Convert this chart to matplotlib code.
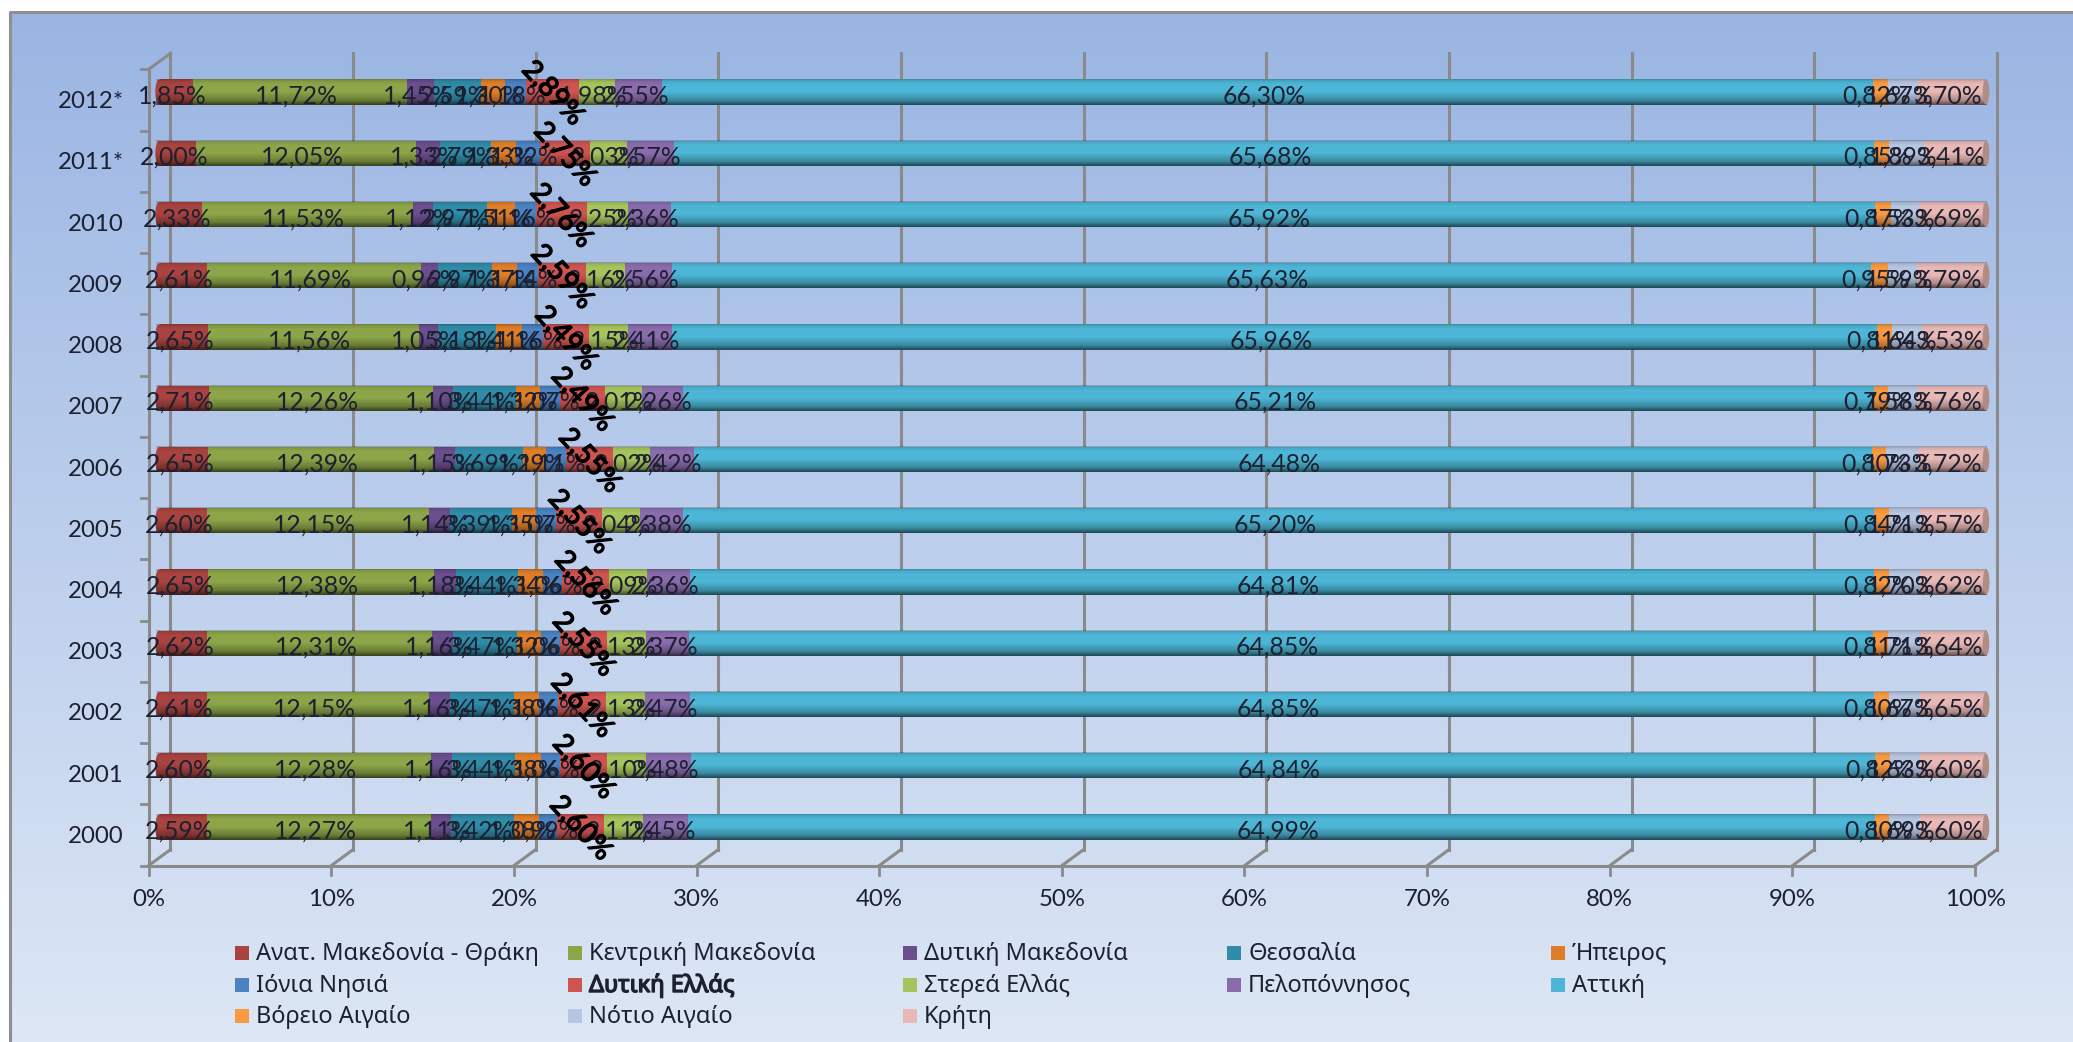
import numpy as np
import matplotlib
matplotlib.use("Agg")
import matplotlib.pyplot as plt
import matplotlib.patheffects as pe
from matplotlib.patches import Ellipse, Rectangle
from matplotlib.transforms import Affine2D, IdentityTransform

W, H = 2073, 1042

years = ["2000", "2001", "2002", "2003", "2004", "2005", "2006",
         "2007", "2008", "2009", "2010", "2011*", "2012*"]

regions = ["Ανατ. Μακεδονία - Θράκη", "Κεντρική Μακεδονία", "Δυτική Μακεδονία",
           "Θεσσαλία", "Ήπειρος", "Ιόνια Νησιά", "Δυτική Ελλάς", "Στερεά Ελλάς",
           "Πελοπόννησος", "Αττική", "Βόρειο Αιγαίο", "Νότιο Αιγαίο", "Κρήτη"]

# one list per region, 2000 -> 2012*
anat_makedonia = [2.59, 2.60, 2.61, 2.62, 2.65, 2.60, 2.65, 2.71, 2.65, 2.61, 2.33, 2.00, 1.85]
kentriki_makedonia = [12.27, 12.28, 12.15, 12.31, 12.38, 12.15, 12.39, 12.26, 11.56, 11.69, 11.53, 12.05, 11.72]
dytiki_makedonia = [1.11, 1.16, 1.16, 1.16, 1.18, 1.14, 1.15, 1.10, 1.05, 0.96, 1.12, 1.33, 1.45]
thessalia = [3.42, 3.44, 3.47, 3.47, 3.44, 3.39, 3.69, 3.44, 3.18, 2.97, 2.97, 2.79, 2.59]
ipeiros = [1.38, 1.38, 1.38, 1.32, 1.34, 1.35, 1.29, 1.32, 1.41, 1.37, 1.51, 1.33, 1.30]
ionia = [0.99, 1.06, 1.06, 1.06, 1.06, 1.07, 1.11, 1.07, 1.16, 1.14, 1.16, 1.32, 1.18]
dytiki_ellada = [2.60, 2.60, 2.61, 2.55, 2.56, 2.55, 2.55, 2.49, 2.49, 2.59, 2.76, 2.75, 2.89]
sterea = [2.11, 2.10, 2.13, 2.13, 2.09, 2.04, 2.02, 2.01, 2.15, 2.16, 2.25, 2.03, 1.98]
peloponnisos = [2.45, 2.48, 2.47, 2.37, 2.36, 2.38, 2.42, 2.26, 2.41, 2.56, 2.36, 2.57, 2.55]
attiki = [64.99, 64.84, 64.85, 64.85, 64.81, 65.20, 64.48, 65.21, 65.96, 65.63, 65.92, 65.68, 66.30]
voreio_aigaio = [0.80, 0.82, 0.80, 0.81, 0.82, 0.84, 0.80, 0.79, 0.81, 0.95, 0.87, 0.85, 0.82]
notio_aigaio = [1.69, 1.63, 1.67, 1.71, 1.70, 1.71, 1.73, 1.58, 1.64, 1.59, 1.53, 1.89, 1.67]
kriti = [3.60, 3.60, 3.65, 3.64, 3.62, 3.57, 3.72, 3.76, 3.53, 3.79, 3.69, 3.41, 3.70]

series = [anat_makedonia, kentriki_makedonia, dytiki_makedonia, thessalia, ipeiros,
          ionia, dytiki_ellada, sterea, peloponnisos, attiki, voreio_aigaio,
          notio_aigaio, kriti]

colors = ["#A8433F", "#8BA548", "#6B4E8E", "#2F8CA8", "#E07E28", "#4A82C2", "#CE5450",
          "#A6C45C", "#8A6CAD", "#4DB6D6", "#F99A42", "#B6C5E0", "#E8B8B5"]

INK = "#1c2030"
GRID = "#8a8a8a"
NUM_FONT = ["Lato", "Noto Sans"]
TXT_FONT = ["Noto Sans"]

fig = plt.figure(figsize=(W / 100, H / 100), dpi=100, facecolor="white")

# chart area gradient
bg = fig.add_axes([0, 0, 1, 1], zorder=0)
bg.set_axis_off()
top = np.array(matplotlib.colors.to_rgb("#9AB5E3"))
bot = np.array(matplotlib.colors.to_rgb("#DDE7F5"))
ramp = np.linspace(0, 1, 256)[:, None, None]
bg.imshow(top + (bot - top) * ramp, extent=[10, W, H, 12], aspect="auto")
bg.set_xlim(0, W)
bg.set_ylim(H, 0)
bg.plot([10, 10, W], [H, 12, 12], color="#8f8f8f", lw=2.2)

# main axes sits at the middle of the fake 3d depth
x0, x1, y_top, y_bot = 159.5, 1986.0, 61.4, 857.6
ax = fig.add_axes([x0 / W, 1 - y_bot / H, (x1 - x0) / W, (y_bot - y_top) / H], zorder=1)
ax.patch.set_alpha(0)
ax.set_axis_off()
ymin, ymax = -0.5, 12.5
ax.set_xlim(0, 100)
ax.set_ylim(ymin, ymax)

DX, DY = 10.9, 8.0
back = ax.transData + Affine2D().translate(DX, DY)
front = ax.transData + Affine2D().translate(-DX, -DY)
pixels = IdentityTransform()
ticks = np.arange(0, 101, 10)


def depth_line(x, y):
    # joins front and back edge of the floor/wall at data position x, y
    p = np.array([front.transform((x, y)), back.transform((x, y))])
    ax.plot(p[:, 0], p[:, 1], transform=pixels, color=GRID, lw=2.2, clip_on=False, zorder=1)


for t in ticks:
    ax.plot([t, t], [ymin, ymax], transform=back, color=GRID, lw=2.2, clip_on=False, zorder=1)
    depth_line(t, ymin)
    p = front.transform((t, ymin))
    ax.plot([p[0], p[0]], [p[1], p[1] - 9], transform=pixels, color=GRID, lw=2, clip_on=False, zorder=1)
    ax.text(t, ymin, f"{t}%", transform=front + Affine2D().translate(0, -34),
            ha="center", va="center", fontsize=17.3, family=NUM_FONT, color=INK, zorder=6)

depth_line(0, ymax)
ax.plot([0, 0], [ymin, ymax], transform=front, color=GRID, lw=2.2, clip_on=False, zorder=1)
ax.plot([0, 100], [ymin, ymin], transform=front, color=GRID, lw=2.2, clip_on=False, zorder=1)
for k in np.arange(ymin, ymax + 1):
    p = front.transform((0, k))
    ax.plot([p[0] - 8, p[0]], [p[1], p[1]], transform=pixels, color=GRID, lw=2, clip_on=False, zorder=1)

# bars
y = np.arange(len(years))
bar_h = 0.41
left = np.zeros(len(years))
for vals, col in zip(series, colors):
    ax.barh(y, vals, left=left, height=bar_h, color=col, linewidth=0, zorder=2)
    left = left + np.array(vals)

# round ends of the cylinders, then the shading over each one
stops = np.linspace(0, 1, 48)
shade = np.zeros((48, 1, 4))
shade[:, 0, 3] = np.interp(stops, [0, 0.06, 0.2, 0.5, 0.82, 1], [0.24, 0.08, 0, 0, 0.25, 0.6])
for i in y:
    ax.add_patch(Ellipse((-0.02, i), 0.42, bar_h, facecolor=colors[0], lw=0, zorder=2.5, clip_on=False))
    ax.imshow(shade, extent=[-0.2, left[i], i - bar_h / 2, i + bar_h / 2], origin="upper",
              aspect="auto", interpolation="bilinear", zorder=3, clip_on=False)
    ax.add_patch(Ellipse((left[i], i), 0.36, bar_h, facecolor="#B08C84", lw=0, zorder=3.5, clip_on=False))
ax.set_xlim(0, 100)
ax.set_ylim(ymin, ymax)

# category labels
for i, yr in zip(y, years):
    ax.text(0, i, yr, transform=front + Affine2D().translate(-25, -1.5), ha="right",
            va="center", fontsize=17.3, family=NUM_FONT, color=INK, zorder=6)

# data labels
left = np.zeros(len(years))
for s, vals in enumerate(series):
    for i, v in enumerate(vals):
        label = f"{v:.2f}%".replace(".", ",")
        cx = left[i] + v / 2
        if s == 6:
            ax.text(cx, i - 0.02, label, ha="center", va="center", rotation=-47, fontsize=20,
                    family=NUM_FONT, color="black", zorder=7,
                    path_effects=[pe.withStroke(linewidth=1.0, foreground="black")])
        else:
            ax.text(cx - 0.2, i - 0.07, label, ha="center", va="center", fontsize=17.8,
                    family=NUM_FONT, color=INK, zorder=6)
    left = left + np.array(vals)

# legend, laid out row by row like the original
col_x = [235, 568, 903, 1227, 1551]
row_y = [953, 985, 1016]
for n, (name, col) in enumerate(zip(regions, colors)):
    lx, ly = col_x[n % 5], row_y[n // 5]
    bg.add_patch(Rectangle((lx, ly - 7), 14, 14, facecolor=col, edgecolor="none"))
    t = bg.text(lx + 21, ly + 1, name, ha="left", va="center", fontsize=17, family=TXT_FONT,
                color=INK)
    if n == 6:
        t.set_path_effects([pe.withStroke(linewidth=1.0, foreground=INK)])

fig.savefig("out.png", dpi=100)
